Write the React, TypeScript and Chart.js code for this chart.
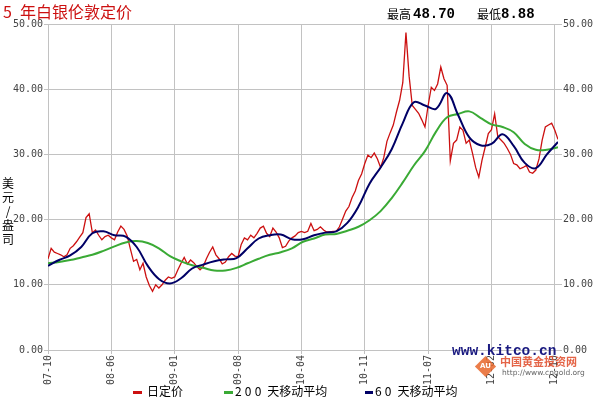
import React, { useEffect, useRef } from "react";
import { Chart, registerables } from "chart.js";

Chart.register(...registerables);

// ---- data ----
const X_LABELS = ["07-10", "08-06", "09-01", "09-08", "10-04", "10-11", "11-07", "12-02", "12-10"];
const POINTS_PER_LABEL = 20; // price samples between two date labels
const Y_MAX = 50;
const Y_STEP = 10;

// daily fixing (sampled), USD / oz
const PRICE = [
  14.0, 15.6, 15.0, 14.8, 14.6, 14.3, 14.6, 15.6, 16.0, 16.6,
  17.3, 18.0, 20.3, 20.9, 18.0, 18.4, 17.6, 16.9, 17.4, 17.6,
  17.2, 16.9, 18.1, 19.0, 18.5, 17.5, 15.5, 13.6, 13.9, 12.3,
  13.3, 11.2, 9.9, 9.0, 10.0, 9.5, 10.0, 10.7, 11.2, 11.0,
  11.2, 12.3, 13.3, 14.2, 13.2, 13.8, 13.4, 12.8, 12.3, 12.8,
  14.0, 15.0, 15.8, 14.6, 14.0, 13.2, 13.5, 14.3, 14.8, 14.4,
  14.3, 16.2, 17.2, 16.9, 17.6, 17.2, 17.9, 18.7, 19.0, 17.9,
  17.4, 18.7, 18.1, 17.2, 15.7, 15.9, 16.7, 17.2, 17.5, 18.0,
  18.2, 18.0, 18.2, 19.4, 18.3, 18.5, 18.9, 18.4, 18.1, 18.1,
  18.2, 18.2, 18.9, 20.1, 21.3, 22.0, 23.4, 24.4, 26.0, 27.0,
  28.6, 29.9, 29.5, 30.2, 29.3, 28.0, 29.5, 32.0, 33.3, 34.5,
  36.5, 38.3, 41.0, 48.7, 42.0, 37.5, 36.9, 36.3, 35.3, 34.2,
  37.5, 40.3, 39.8, 40.8, 43.4, 41.6, 40.6, 29.0, 31.7, 32.2,
  34.2, 33.7, 31.7, 32.2, 30.2, 28.0, 26.5, 29.1, 31.1, 33.2,
  33.8, 36.2, 32.7, 32.2, 31.7, 30.9, 30.0, 28.6, 28.4, 27.8,
  28.0, 28.3, 27.3, 27.1, 27.6, 29.3, 32.2, 34.2, 34.5, 34.8,
  33.7, 32.3,
];

// moving averages, one value every MA_STEP price samples
const MA_STEP = 3.5;
const MA200 = [
  13.3, 13.5, 13.8, 14.2, 14.6, 15.2, 15.9, 16.5, 16.7, 16.4,
  15.6, 14.4, 13.6, 13.0, 12.6, 12.2, 12.2, 12.6, 13.3, 14.0,
  14.6, 15.0, 15.6, 16.6, 17.1, 17.7, 17.8, 18.3, 18.9, 19.9,
  21.3, 23.3, 25.7, 28.3, 30.5, 33.5, 35.7, 36.2, 36.6, 35.6,
  34.6, 34.2, 33.4, 31.6, 30.7, 30.7, 31.1,
];
const MA60 = [
  12.9, 13.8, 14.5, 15.8, 17.9, 18.2, 17.6, 17.4, 15.8, 12.9,
  10.9, 10.2, 11.0, 12.5, 13.1, 13.6, 13.9, 14.1, 15.6, 17.1,
  17.6, 17.7, 17.0, 17.0, 17.6, 18.0, 18.2, 19.5, 22.0, 25.5,
  28.0, 30.8, 34.8, 38.0, 37.5, 37.0, 39.4, 36.0, 32.6, 31.4,
  31.6, 33.1, 31.3, 28.7, 27.9, 30.0, 31.9,
];

const HIGH_TEXT = "48.70";
const LOW_TEXT = "8.88";

const RED = "#cc1010";
const GREEN = "#3aaa35";
const BLUE = "#000066";
const GRID = "#c2c2c2";
const TICK_FONT = { family: "'DejaVu Sans Mono', monospace", size: 10 };
const CJK = "'Noto Sans CJK SC', sans-serif";

export default function App() {
  const ref = useRef<HTMLCanvasElement | null>(null);

  useEffect(() => {
    const canvas = ref.current;
    if (!canvas) return;
    const xMax = PRICE.length - 1;
    const chart = new Chart(canvas, {
      type: "line",
      data: {
        datasets: [
          {
            label: "60天移动平均",
            data: MA60.map((v, j) => ({ x: j * MA_STEP, y: v })),
            borderColor: BLUE,
            borderWidth: 2,
            pointRadius: 0,
            tension: 0.4,
            order: 1,
          },
          {
            label: "200天移动平均",
            data: MA200.map((v, j) => ({ x: j * MA_STEP, y: v })),
            borderColor: GREEN,
            borderWidth: 2,
            pointRadius: 0,
            tension: 0.4,
            order: 2,
          },
          {
            label: "日定价",
            data: PRICE.map((v, i) => ({ x: i, y: v })),
            borderColor: RED,
            borderWidth: 1.3,
            pointRadius: 0,
            tension: 0,
            order: 3,
          },
        ],
      },
      options: {
        animation: false,
        responsive: false,
        maintainAspectRatio: false,
        layout: { padding: { top: 24, left: 0, right: 0, bottom: 0 } },
        plugins: { legend: { display: false }, tooltip: { enabled: false } },
        scales: {
          x: {
            type: "linear",
            min: 0,
            max: xMax,
            afterBuildTicks: (s: any) => {
              s.ticks = X_LABELS.map((_, k) => ({ value: k * POINTS_PER_LABEL }));
            },
            afterFit: (s: any) => {
              s.height = 48;
            },
            grid: { color: GRID, tickLength: 4, drawTicks: true },
            border: { display: false },
            ticks: {
              autoSkip: false,
              minRotation: 90,
              maxRotation: 90,
              padding: 1,
              color: "#444",
              font: TICK_FONT,
              callback: (v: any) => X_LABELS[Math.round(Number(v) / POINTS_PER_LABEL)] ?? "",
            },
          },
          y: {
            position: "left",
            min: 0,
            max: Y_MAX,
            afterFit: (s: any) => {
              s.width = 48;
            },
            grid: { color: GRID, tickLength: 4 },
            border: { display: true, color: GRID },
            ticks: {
              stepSize: Y_STEP,
              padding: 1,
              color: "#444",
              font: TICK_FONT,
              callback: (v: any) => Number(v).toFixed(2),
            },
          },
          y2: {
            position: "right",
            min: 0,
            max: Y_MAX,
            afterFit: (s: any) => {
              s.width = 40;
            },
            grid: { color: GRID, tickLength: 4, drawOnChartArea: false },
            border: { display: false },
            ticks: {
              stepSize: Y_STEP,
              padding: 1,
              color: "#444",
              font: TICK_FONT,
              callback: (v: any) => Number(v).toFixed(2),
            },
          },
        },
      },
    } as any);
    return () => chart.destroy();
  }, []);

  const abs = (s: React.CSSProperties): React.CSSProperties => ({ position: "absolute", whiteSpace: "nowrap", ...s });

  return (
    <div style={{ position: "fixed", left: 0, top: 0, width: 598, height: 398, background: "#fff", overflow: "hidden" }}>
      <canvas ref={ref} width={598} height={398} style={{ position: "absolute", left: 0, top: 0, width: 598, height: 398 }} />

      {/* title */}
      <div style={abs({ left: 3, top: 0, fontFamily: CJK, fontSize: 16, lineHeight: "22px", color: RED })}>
        5<span style={{ display: "inline-block", width: 8 }}> </span>年白银伦敦定价
      </div>

      {/* high / low */}
      <div style={abs({ left: 387, top: 6, fontFamily: CJK, fontSize: 12, lineHeight: "16px", color: "#000" })}>最高</div>
      <div style={abs({ left: 413, top: 6, fontFamily: "'Liberation Mono', monospace", fontWeight: "bold", fontSize: 14, lineHeight: "16px", color: "#000" })}>{HIGH_TEXT}</div>
      <div style={abs({ left: 477, top: 6, fontFamily: CJK, fontSize: 12, lineHeight: "16px", color: "#000" })}>最低</div>
      <div style={abs({ left: 501, top: 6, fontFamily: "'Liberation Mono', monospace", fontWeight: "bold", fontSize: 14, lineHeight: "16px", color: "#000" })}>{LOW_TEXT}</div>

      {/* y axis title, stacked */}
      <div style={abs({ left: 1, top: 176, width: 14, textAlign: "center", fontFamily: CJK, fontSize: 12, lineHeight: "14px", color: "#000", whiteSpace: "normal" })}>
        美<br />元<br />/<br />盎<br />司
      </div>

      {/* watermark */}
      <div style={abs({ left: 452, top: 343, fontFamily: "'Liberation Mono', monospace", fontWeight: "bold", fontSize: 14.5, lineHeight: "16px", color: "#1a1a80" })}>www.kitco.cn</div>
      <div style={abs({ left: 478, top: 359, width: 15, height: 15, background: "#e8662a", transform: "rotate(45deg)", opacity: 0.85 })} />
      <div style={abs({ left: 480, top: 361, fontFamily: "'DejaVu Sans', sans-serif", fontSize: 7, lineHeight: "10px", color: "#fff", fontWeight: "bold" })}>AU</div>
      <div style={abs({ left: 500, top: 354, fontFamily: CJK, fontSize: 11, lineHeight: "14px", color: "#e04a28", opacity: 0.85, fontWeight: "bold" })}>中国黄金投资网</div>
      <div style={abs({ left: 502, top: 368, fontFamily: "'DejaVu Sans', sans-serif", fontSize: 7.5, lineHeight: "10px", color: "#666" })}>http://www.cngold.org</div>

      {/* legend */}
      <div style={abs({ left: 133, top: 391, width: 9, height: 3, background: RED })} />
      <div style={abs({ left: 147, top: 383, fontFamily: CJK, fontSize: 12, lineHeight: "16px", color: "#000" })}>日定价</div>
      <div style={abs({ left: 224, top: 391, width: 9, height: 3, background: GREEN })} />
      <div style={abs({ left: 235, top: 383, fontFamily: CJK, fontSize: 12, lineHeight: "16px", color: "#000" })}>
        <span style={{ letterSpacing: "3.2px" }}>200</span> 天移动平均
      </div>
      <div style={abs({ left: 365, top: 391, width: 8, height: 3, background: BLUE })} />
      <div style={abs({ left: 375, top: 383, fontFamily: CJK, fontSize: 12, lineHeight: "16px", color: "#000" })}>
        <span style={{ letterSpacing: "3.2px" }}>60</span> 天移动平均
      </div>
    </div>
  );
}
